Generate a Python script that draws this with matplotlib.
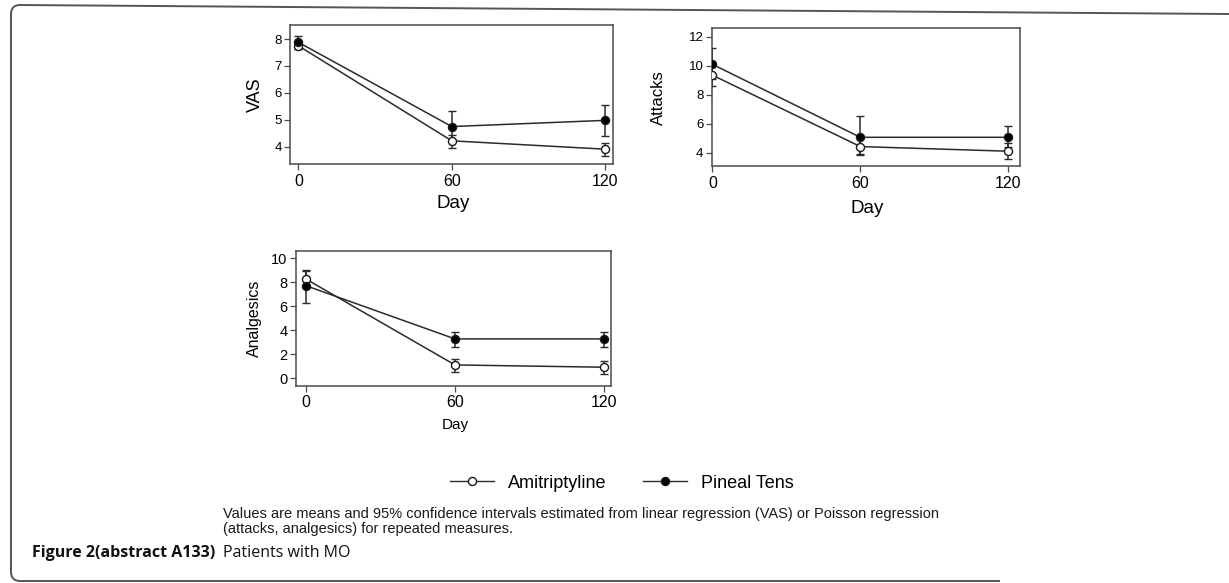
import numpy as np
import matplotlib
matplotlib.use("Agg")
import matplotlib.pyplot as plt
from matplotlib.lines import Line2D
from matplotlib.path import Path
from matplotlib.patches import PathPatch

plt.rcParams['font.family'] = ['Liberation Sans', 'DejaVu Sans']

# ---- data ----
days = [0, 60, 120]
x_ticks = [0, 60, 120]
series_names = ["Amitriptyline", "Pineal Tens"]

# VAS
vas_ami = [7.75, 4.22, 3.91]
vas_ami_lo = [7.62, 3.96, 3.65]
vas_ami_hi = [7.90, 4.45, 4.15]
vas_pin = [7.88, 4.75, 4.98]
vas_pin_lo = [7.63, 4.20, 4.40]
vas_pin_hi = [8.13, 5.32, 5.55]
vas_ticks = [4, 5, 6, 7, 8]

# Attacks
att_ami = [9.35, 4.42, 4.10]
att_ami_lo = [8.60, 3.85, 3.55]
att_ami_hi = [10.05, 5.00, 4.65]
att_pin = [10.10, 5.06, 5.06]
att_pin_lo = [9.10, 3.90, 4.38]
att_pin_hi = [11.20, 6.55, 5.84]
att_ticks = [4, 6, 8, 10, 12]

# Analgesics
ana_ami = [8.28, 1.11, 0.92]
ana_ami_lo = [7.55, 0.50, 0.36]
ana_ami_hi = [9.03, 1.61, 1.44]
ana_pin = [7.72, 3.28, 3.28]
ana_pin_lo = [6.25, 2.58, 2.60]
ana_pin_hi = [8.94, 3.89, 3.88]
ana_ticks = [0, 2, 4, 6, 8, 10]

caption = ("Values are means and 95% confidence intervals estimated from linear regression (VAS) or Poisson regression\n"
           "(attacks, analgesics) for repeated measures.")
fig_title_bold = "Figure 2(abstract A133)"
fig_title_rest = "Patients with MO"

W, H = 1229, 583
fig = plt.figure(figsize=(W / 100, H / 100), dpi=100)
fig.patch.set_facecolor('white')

LINE = '#2b2b2b'
SPINE = '#4a4a4a'


def px_axes(l, t, r, b):
    return fig.add_axes([l / W, 1 - b / H, (r - l) / W, (b - t) / H])


def draw_panel(ax, ami, ami_lo, ami_hi, pin, pin_lo, pin_hi, yticks, xlim, ylim,
               ylabel, ylabel_x, ylabel_size, ytick_size, xlabel_y, xlabel_size):
    for vals, lo, hi, face in [(ami, ami_lo, ami_hi, 'white'), (pin, pin_lo, pin_hi, 'black')]:
        vals = np.array(vals)
        err = np.vstack([vals - np.array(lo), np.array(hi) - vals])
        ax.errorbar(days, vals, yerr=err, fmt='-o', color=LINE, lw=1.1,
                    elinewidth=1.1, capsize=3.0, capthick=1.1,
                    ms=5.8, mfc=face, mec='#1a1a1a', mew=1.0, zorder=3)
    ax.set_xlim(*xlim)
    ax.set_ylim(*ylim)
    ax.set_xticks(x_ticks)
    ax.set_yticks(yticks)
    ax.tick_params(axis='x', length=4, width=0.9, color=SPINE, labelsize=11.5, pad=3)
    ax.tick_params(axis='y', length=4, width=0.9, color=SPINE, labelsize=ytick_size, pad=2)
    for s in ax.spines.values():
        s.set_color(SPINE)
        s.set_linewidth(1.1)
    ax.set_ylabel(ylabel, fontsize=ylabel_size)
    ax.yaxis.set_label_coords(ylabel_x, 0.5)
    ax.yaxis.label.set_va('center')
    ax.set_xlabel("Day", fontsize=xlabel_size)
    ax.xaxis.set_label_coords(0.505, xlabel_y)
    ax.xaxis.label.set_va('center')


ax1 = px_axes(290, 25, 613, 164)
draw_panel(ax1, vas_ami, vas_ami_lo, vas_ami_hi, vas_pin, vas_pin_lo, vas_pin_hi,
           vas_ticks, (-3.25, 123.0), (3.36, 8.52), "VAS", -0.108, 13, 9.5,
           -(203 - 164) / 139, 13.5)

ax2 = px_axes(711.7, 28.3, 1020, 166)
draw_panel(ax2, att_ami, att_ami_lo, att_ami_hi, att_pin, att_pin_lo, att_pin_hi,
           att_ticks, (-0.25, 124.7), (3.08, 12.58), "Attacks", -0.174, 12, 9.5,
           -(208 - 166) / 137.7, 13.5)

ax3 = px_axes(296, 250.7, 611, 385.7)
draw_panel(ax3, ana_ami, ana_ami_lo, ana_ami_hi, ana_pin, ana_pin_lo, ana_pin_hi,
           ana_ticks, (-3.9, 122.7), (-0.62, 10.63), "Analgesics", -0.133, 11.5, 10.5,
           -(425 - 385.7) / 135, 11)

# legend
handles = [Line2D([], [], color=LINE, lw=1.0, marker='o', ms=5.8, mfc='white', mec='#1a1a1a'),
           Line2D([], [], color=LINE, lw=1.0, marker='o', ms=5.8, mfc='black', mec='#1a1a1a')]
fig.legend(handles, series_names, loc='center', bbox_to_anchor=(622 / W, 1 - 483 / H),
           ncol=2, frameon=False, fontsize=13, handlelength=2.4, handletextpad=0.78,
           columnspacing=2.05, borderpad=0, borderaxespad=0)

# caption under the legend
fig.text(223 / W, 1 - 507 / H, caption, fontsize=10.5, va='top', ha='left',
         linespacing=1.05, color='#1a1a1a')

# figure caption
fig.text(32 / W, 1 - 553 / H, fig_title_bold, fontsize=11.5, fontweight='bold',
         family=['Open Sans', 'DejaVu Sans'], va='center', ha='left', color='#111111')
fig.text(223 / W, 1 - 553 / H, fig_title_rest, fontsize=11.5,
         family=['Open Sans', 'DejaVu Sans'], va='center', ha='left', color='#111111')

# rounded frame around the figure
def fp(x, y):
    return (x / W, 1 - y / H)

verts = [fp(1229, 14), fp(20, 5), fp(11, 5), fp(11, 14), fp(11, 572), fp(11, 581),
         fp(20, 581), fp(1000, 581)]
codes = [Path.MOVETO, Path.LINETO, Path.CURVE3, Path.CURVE3, Path.LINETO,
         Path.CURVE3, Path.CURVE3, Path.LINETO]
frame = PathPatch(Path(verts, codes), transform=fig.transFigure, fill=False,
                  edgecolor='#555555', lw=1.4)
fig.patches.append(frame)

fig.savefig("out.png", dpi=100, facecolor='white')
